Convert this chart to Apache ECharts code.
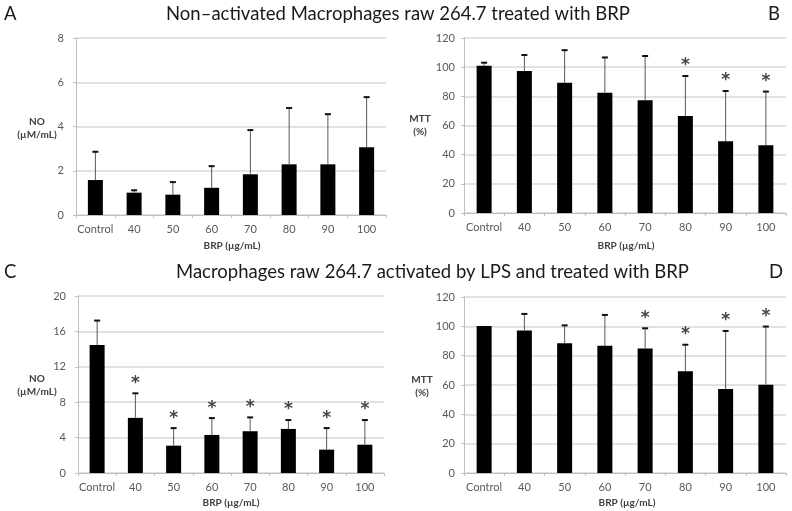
<!DOCTYPE html>
<html>
<head>
<meta charset="utf-8">
<script src="https://cdn.jsdelivr.net/npm/echarts@6/dist/echarts.min.js"></script>
<style>
  html, body { margin: 0; padding: 0; background: #fff; }
  #chart { width: 792px; height: 511px; }
</style>
</head>
<body>
<div id="chart"></div>
<script>
// categories (BRP concentration)
const categories = ['Control', '40', '50', '60', '70', '80', '90', '100']

// A: NO, non-activated
const noPlain = [1.58, 1.01, 0.92, 1.23, 1.84, 2.29, 2.29, 3.06]
const noPlainSd = [1.30, 0.13, 0.59, 1.00, 2.02, 2.57, 2.29, 2.29]
const noPlainStar = [0, 0, 0, 0, 0, 0, 0, 0]

// B: MTT, non-activated
const mttPlain = [100.9, 97.3, 89.3, 82.5, 77.4, 66.5, 49.2, 46.5]
const mttPlainSd = [2.5, 11.4, 22.7, 24.5, 30.6, 27.8, 34.8, 37.1]
const mttPlainStar = [0, 0, 0, 0, 0, 1, 1, 1]

// C: NO, LPS activated
const noLps = [14.45, 6.23, 3.09, 4.30, 4.72, 4.98, 2.64, 3.20]
const noLpsSd = [2.83, 2.83, 2.04, 1.96, 1.62, 1.06, 2.49, 2.84]
const noLpsStar = [0, 1, 1, 1, 1, 1, 1, 1]

// D: MTT, LPS activated
const mttLps = [100.2, 97.2, 88.5, 86.7, 84.9, 69.4, 57.3, 60.2]
const mttLpsSd = [0, 11.6, 12.5, 21.4, 14.1, 18.4, 39.9, 40.0]
const mttLpsStar = [0, 0, 0, 0, 1, 1, 1, 1]

const font = 'Lato, "Open Sans", sans-serif'
const gray = '#595959'

const grids = [
  { left: 76, top: 38, width: 310, height: 177 },
  { left: 464, top: 38, width: 322, height: 175 },
  { left: 78, top: 296, width: 306, height: 177 },
  { left: 464, top: 297, width: 322, height: 176 }
]
const yRanges = [[0, 8, 2], [0, 120, 20], [0, 20, 4], [0, 120, 20]]
const labelMargins = [12, 9, 12, 9]
const means = [noPlain, mttPlain, noLps, mttLps]
const sds = [noPlainSd, mttPlainSd, noLpsSd, mttLpsSd]
const stars = [noPlainStar, mttPlainStar, noLpsStar, mttLpsStar]

let xAxis = []
let yAxis = []
let series = []
grids.forEach((g, k) => {
  xAxis.push({
    gridIndex: k,
    type: 'category',
    data: categories,
    axisLine: { lineStyle: { color: '#bfbfbf', width: 1 } },
    axisTick: { show: true, length: 3, lineStyle: { color: '#bfbfbf' } },
    axisLabel: { interval: 0, color: gray, fontSize: 11, fontFamily: font, margin: 9 }
  })
  yAxis.push({
    gridIndex: k,
    type: 'value',
    min: yRanges[k][0],
    max: yRanges[k][1],
    interval: yRanges[k][2],
    axisLine: { show: true, lineStyle: { color: '#bfbfbf', width: 1 } },
    axisTick: { show: true, length: 3, lineStyle: { color: '#bfbfbf' } },
    splitLine: { lineStyle: { color: '#d9d9d9', width: 1.5 } },
    axisLabel: { color: gray, fontSize: 11, fontFamily: font, margin: labelMargins[k] }
  })
  series.push({
    type: 'bar',
    xAxisIndex: k,
    yAxisIndex: k,
    data: means[k],
    barWidth: 15,
    itemStyle: { color: '#000' }
  })
  series.push({
    type: 'custom',
    xAxisIndex: k,
    yAxisIndex: k,
    z: 5,
    data: means[k].map((m, i) => [i, m, sds[k][i], stars[k][i]]),
    encode: { x: 0, y: 1 },
    renderItem: (params, api) => {
      let i = api.value(0)
      let m = api.value(1)
      let sd = api.value(2)
      let star = api.value(3)
      let p0 = api.coord([i, m])
      let p1 = api.coord([i, m + sd])
      let children = []
      if (sd > 0) {
        children.push({
          type: 'line',
          shape: { x1: p0[0], y1: p0[1], x2: p1[0], y2: p1[1] },
          style: { stroke: '#595959', lineWidth: 1 }
        })
        children.push({
          type: 'line',
          shape: { x1: p1[0] - 3, y1: p1[1] + 0.5, x2: p1[0] + 3, y2: p1[1] + 0.5 },
          style: { stroke: '#111', lineWidth: 2 }
        })
      }
      if (star) {
        children.push({
          type: 'text',
          x: p1[0],
          y: p1[1] - 1,
          style: {
            text: '*',
            fontSize: 17,
            fontWeight: 'bold',
            fontFamily: '"DejaVu Sans"',
            fill: '#444',
            align: 'center',
            verticalAlign: 'bottom'
          }
        })
      }
      return { type: 'group', children: children }
    }
  })
})

const nameStyle = { fontSize: 10, fontWeight: 'bold', fontFamily: font, fill: '#404040', align: 'center' }
const titleStyle = { fontSize: 18.5, fontFamily: font, fill: '#1a1a1a' }

let graphic = [
  { type: 'text', left: 166, top: 5, style: Object.assign({ text: 'Non\u2013activated Macrophages raw 264.7 treated with BRP' }, titleStyle) },
  { type: 'text', left: 176, top: 263, style: Object.assign({ text: 'Macrophages raw 264.7 activated by LPS and treated with BRP' }, titleStyle) },
  { type: 'text', left: 4, top: 5, style: Object.assign({ text: 'A' }, titleStyle) },
  { type: 'text', left: 768, top: 5, style: Object.assign({ text: 'B' }, titleStyle) },
  { type: 'text', left: 4, top: 263, style: Object.assign({ text: 'C' }, titleStyle) },
  { type: 'text', left: 769, top: 263, style: Object.assign({ text: 'D' }, titleStyle) },
  { type: 'text', x: 37, y: 115, style: Object.assign({ text: 'NO\n(\u00b5M/mL)', lineHeight: 13 }, nameStyle) },
  { type: 'text', x: 420, y: 112, style: Object.assign({ text: 'MTT\n(%)', lineHeight: 13 }, nameStyle) },
  { type: 'text', x: 37, y: 372, style: Object.assign({ text: 'NO\n(\u00b5M/mL)', lineHeight: 13 }, nameStyle) },
  { type: 'text', x: 422, y: 373, style: Object.assign({ text: 'MTT\n(%)', lineHeight: 13 }, nameStyle) },
  { type: 'text', x: 232, y: 241, style: Object.assign({ text: 'BRP (\u00b5g/mL)' }, nameStyle) },
  { type: 'text', x: 626, y: 241, style: Object.assign({ text: 'BRP (\u00b5g/mL)' }, nameStyle) },
  { type: 'text', x: 231, y: 498, style: Object.assign({ text: 'BRP (\u00b5g/mL)' }, nameStyle) },
  { type: 'text', x: 627, y: 498, style: Object.assign({ text: 'BRP (\u00b5g/mL)' }, nameStyle) }
]

var myChart = echarts.init(document.getElementById('chart'))
let option = {
  animation: false,
  backgroundColor: '#fff',
  grid: grids,
  xAxis: xAxis,
  yAxis: yAxis,
  series: series,
  graphic: graphic
}
myChart.setOption(option)
</script>
</body>
</html>
